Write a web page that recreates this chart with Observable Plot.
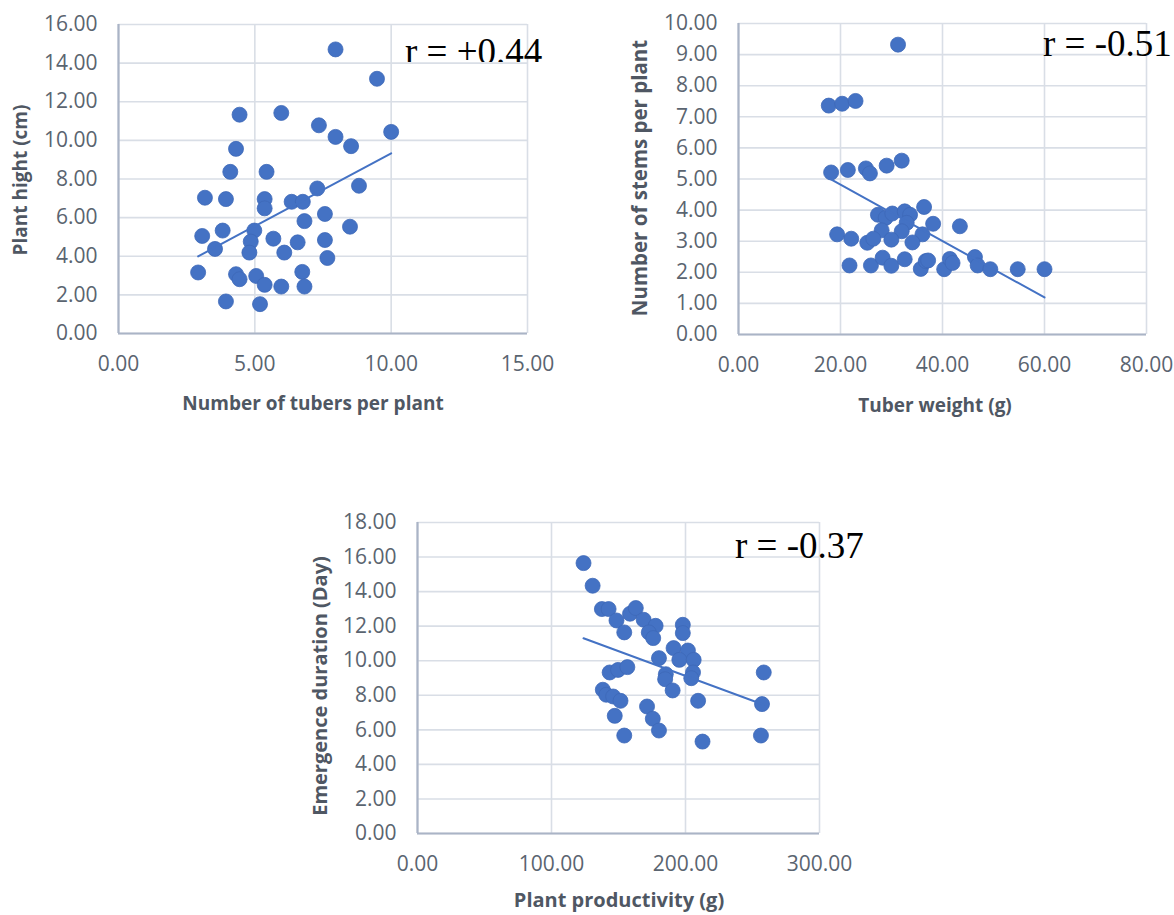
<!DOCTYPE html>
<html><head><meta charset="utf-8">
<script src="https://cdn.jsdelivr.net/npm/d3@7"></script>
<script src="https://cdn.jsdelivr.net/npm/@observablehq/plot@0.6"></script>
<style>
body{margin:0;background:#fff;}
#page{position:relative;width:1174px;height:915px;overflow:hidden;background:#fff;font-family:"Open Sans",sans-serif;}
.chart{position:absolute;}
.ytitle{position:absolute;font-weight:bold;font-size:19px;color:#4f5763;transform:translate(-50%,-50%) rotate(-90deg);white-space:nowrap;}
.xtitle{position:absolute;font-weight:bold;font-size:19px;color:#4f5763;transform:translate(-50%,-50%);white-space:nowrap;}
.rclip{position:absolute;overflow:hidden;}
.r{font-family:"Liberation Serif","Times New Roman",serif;font-size:37px;line-height:37px;color:#000;white-space:nowrap;position:absolute;}
</style>
</head><body>
<div id="page"></div>
<script>
// ---- Chart 1: Number of tubers per plant vs Plant hight ----
const tubersPerPlant = [7.96,9.48,4.44,5.97,7.35,10.0,7.96,8.53,4.31,4.10,5.43,7.29,8.82,3.17,3.94,5.36,5.36,6.35,6.76,7.57,6.82,8.49,3.07,3.82,4.98,4.85,4.80,5.68,6.57,7.57,6.08,3.54,7.66,2.92,4.31,4.44,5.05,5.36,5.97,6.74,6.82,3.94,5.19];
const plantHeight    = [14.71,13.19,11.33,11.42,10.78,10.44,10.18,9.70,9.56,8.37,8.37,7.51,7.65,7.03,6.96,6.96,6.48,6.82,6.82,6.19,5.82,5.53,5.05,5.33,5.33,4.76,4.19,4.91,4.72,4.84,4.19,4.38,3.91,3.16,3.07,2.81,2.98,2.52,2.43,3.19,2.43,1.66,1.52];
const ticks1X = [0,5,10,15];
const ticks1Y = [0,2,4,6,8,10,12,14,16];

// ---- Chart 2: Tuber weight vs Number of stems per plant ----
const tuberWeight   = [31.28,17.70,20.33,22.95,18.16,21.44,24.98,25.77,29.05,32.0,36.39,27.34,28.85,30.16,32.59,33.64,32.98,38.16,43.41,28.07,32.0,36.07,19.34,22.10,25.25,26.43,29.97,34.10,21.77,25.97,28.26,29.97,32.59,35.74,36.72,37.18,40.33,41.44,41.97,46.36,46.89,49.38,54.75,60.0];
const stemsPerPlant = [9.32,7.36,7.42,7.51,5.21,5.29,5.34,5.18,5.43,5.59,4.10,3.85,3.75,3.89,3.96,3.85,3.59,3.56,3.48,3.35,3.32,3.22,3.22,3.08,2.95,3.08,3.05,2.96,2.22,2.22,2.47,2.21,2.42,2.11,2.36,2.38,2.10,2.43,2.30,2.49,2.22,2.10,2.10,2.10];
const ticks2X = [0,20,40,60,80];
const ticks2Y = [0,1,2,3,4,5,6,7,8,9,10];

// ---- Chart 3: Plant productivity vs Emergence duration ----
const plantProductivity = [123.9,130.7,137.6,142.6,148.5,154.3,158.6,162.9,168.8,177.7,172.6,175.9,198.0,198.0,191.1,201.8,195.4,206.1,180.2,143.4,149.7,156.6,185.3,184.8,205.6,204.3,190.4,138.3,140.9,146.0,151.5,147.2,171.3,175.6,180.2,154.3,209.4,212.7,258.4,257.1,256.3];
const emergenceDuration = [15.65,14.34,12.99,12.99,12.33,11.64,12.72,13.05,12.37,12.02,11.64,11.31,12.08,11.60,10.73,10.59,10.05,10.05,10.15,9.32,9.47,9.63,9.22,8.93,9.32,8.99,8.28,8.32,8.03,7.93,7.68,6.81,7.35,6.64,5.96,5.67,7.68,5.32,9.32,7.49,5.67];
const ticks3X = [0,100,200,300];
const ticks3Y = [0,2,4,6,8,10,12,14,16,18];

const labels = {
  c1: {x: "Number of tubers per plant", y: "Plant hight (cm)", r: "r = +0.44"},
  c2: {x: "Tuber weight (g)", y: "Number of stems per plant", r: "r = -0.51"},
  c3: {x: "Plant productivity (g)", y: "Emergence duration (Day)", r: "r = -0.37"}
};

const fmt = d3.format(".2f");
const blue = "#4472c4";
const gridColor = "#d9dee6";
const axisColor = "#aab4c6";

function scatter(xs, ys, xTicks, yTicks, box) {
  const data = xs.map((x, i) => ({x, y: ys[i]}));
  const xd = [xTicks[0], xTicks[xTicks.length - 1]];
  const yd = [yTicks[0], yTicks[yTicks.length - 1]];
  return Plot.plot({
    width: box.w, height: box.h,
    marginTop: box.mt, marginRight: box.mr, marginBottom: box.mb, marginLeft: box.ml,
    style: {fontFamily: '"Open Sans", sans-serif', fontSize: "21px", color: "#5a6470", background: "transparent", overflow: "visible"},
    x: {domain: xd},
    y: {domain: yd},
    marks: [
      Plot.gridX(xTicks, {stroke: gridColor, strokeOpacity: 1, strokeWidth: 1.6}),
      Plot.gridY(yTicks, {stroke: gridColor, strokeOpacity: 1, strokeWidth: 1.6}),
      Plot.ruleY([yd[0]], {stroke: axisColor, strokeWidth: 2.2}),
      Plot.ruleX([xd[0]], {stroke: axisColor, strokeWidth: 2.2}),
      Plot.axisX(xTicks, {tickSize: 0, tickPadding: 23, tickFormat: fmt, label: null}),
      Plot.axisY(yTicks, {tickSize: 0, tickPadding: 21, tickFormat: fmt, label: null}),
      Plot.dot(data, {x: "x", y: "y", r: 7.5, fill: blue, stroke: "#3d68b8", strokeWidth: 0.8}),
      Plot.linearRegressionY(data, {x: "x", y: "y", stroke: blue, strokeWidth: 2, ci: 0})
    ]
  });
}

const page = document.getElementById("page");
function place(el, left, top) {
  const d = document.createElement("div");
  d.className = "chart";
  d.style.left = left + "px"; d.style.top = top + "px";
  d.appendChild(el); page.appendChild(d);
}
function text(cls, str, left, top, size) {
  const d = document.createElement("div");
  d.className = cls; d.textContent = str;
  d.style.left = left + "px"; d.style.top = top + "px";
  if (size) d.style.fontSize = size + "px";
  page.appendChild(d);
}
function rText(str, left, top, clipH) {
  const c = document.createElement("div");
  c.className = "rclip";
  c.style.left = left + "px"; c.style.top = "0px";
  c.style.width = "200px"; c.style.height = clipH + "px";
  const t = document.createElement("div");
  t.className = "r"; t.textContent = str;
  t.style.left = "0px"; t.style.top = top + "px";
  c.appendChild(t); page.appendChild(c);
}

place(scatter(tubersPerPlant, plantHeight, ticks1X, ticks1Y, {w: 560, h: 380, mt: 24, mr: 33, mb: 47, ml: 118}), 0, 0);
place(scatter(tuberWeight, stemsPerPlant, ticks2X, ticks2Y, {w: 574, h: 380, mt: 23, mr: 28, mb: 46, ml: 138}), 600, 0);
place(scatter(plantProductivity, emergenceDuration, ticks3X, ticks3Y, {w: 560, h: 400, mt: 42, mr: 41, mb: 47, ml: 117}), 300, 480);

text("ytitle", labels.c1.y, 20, 180);
text("xtitle", labels.c1.x, 313, 403);
text("ytitle", labels.c2.y, 639, 178, 20.5);
text("xtitle", labels.c2.x, 935, 405);
text("ytitle", labels.c3.y, 319, 686, 20);
text("xtitle", labels.c3.x, 619, 899, 20);

rText(labels.c1.r, 405, 33, 62);
rText(labels.c2.r, 1043, 25, 120);
rText(labels.c3.r, 735, 527, 600);
</script>
</body></html>
